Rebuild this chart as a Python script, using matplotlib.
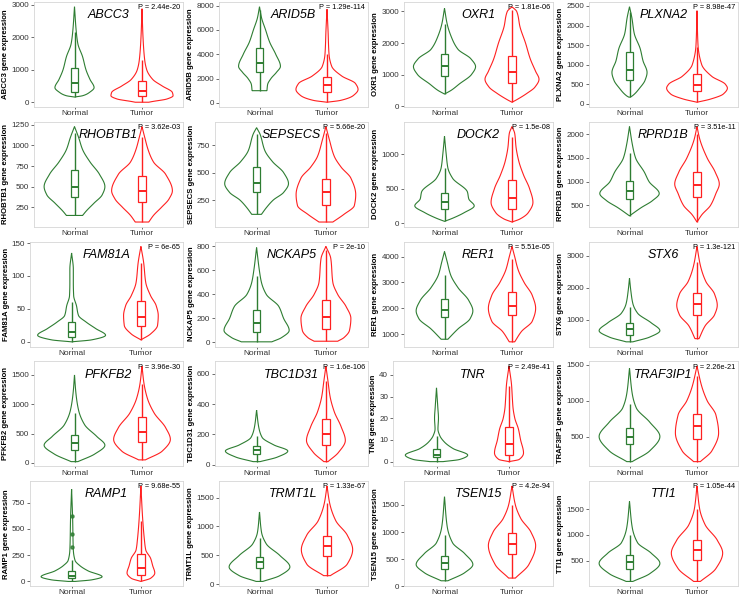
import numpy as np
import matplotlib
matplotlib.use("Agg")
import matplotlib.pyplot as plt
from matplotlib.patches import Rectangle

plt.rcParams['font.family'] = ['Liberation Sans', 'DejaVu Sans']

genes = ["ABCC3", "ARID5B", "OXR1", "PLXNA2",
         "RHOBTB1", "SEPSECS", "DOCK2", "RPRD1B",
         "FAM81A", "NCKAP5", "RER1", "STX6",
         "PFKFB2", "TBC1D31", "TNR", "TRAF3IP1",
         "RAMP1", "TRMT1L", "TSEN15", "TTI1"]

pvals = ["P = 2.44e-20", "P = 1.29e-114", "P = 1.81e-06", "P = 8.98e-47",
         "P = 3.62e-03", "P = 5.66e-20", "P = 1.5e-08", "P = 3.51e-11",
         "P = 6e-65", "P = 2e-10", "P = 5.51e-05", "P = 1.3e-121",
         "P = 3.96e-30", "P = 1.6e-106", "P = 2.49e-41", "P = 2.26e-21",
         "P = 9.68e-55", "P = 1.33e-67", "P = 4.2e-94", "P = 1.05e-44"]

yticks = [[0, 1000, 2000, 3000], [0, 2000, 4000, 6000, 8000], [0, 1000, 2000, 3000], [0, 500, 1000, 1500, 2000, 2500],
          [250, 500, 750, 1000, 1250], [250, 500, 750], [0, 500, 1000], [500, 1000, 1500, 2000],
          [0, 50, 100, 150], [0, 200, 400, 600, 800], [1000, 2000, 3000, 4000], [1000, 2000, 3000],
          [0, 500, 1000, 1500], [0, 200, 400, 600], [0, 10, 20, 30, 40], [500, 1000, 1500],
          [0, 250, 500, 750], [0, 500, 1000, 1500], [0, 500, 1000, 1500], [500, 1000, 1500]]

# box stats: [lower whisker, q1, median, q3, upper whisker]
normal_box = [[160, 300, 600, 1050, 2170], [1000, 2500, 3300, 4550, 7600], [380, 950, 1280, 1650, 2600], [170, 620, 870, 1330, 2350],
              [150, 370, 500, 700, 1150], [120, 320, 410, 550, 850], [25, 200, 310, 440, 800], [280, 630, 800, 1010, 1600],
              [0, 8, 15, 30, 60], [5, 90, 165, 270, 550], [800, 1650, 1950, 2350, 3300], [300, 520, 700, 900, 1400],
              [20, 220, 330, 480, 850], [20, 70, 95, 120, 190], [0, 2, 3, 6, 12], [150, 400, 500, 620, 950],
              [0, 30, 55, 100, 200], [50, 280, 380, 480, 800], [100, 320, 430, 560, 950], [100, 350, 480, 620, 1000]]
tumor_box = [[0, 200, 360, 650, 1300], [50, 900, 1450, 2150, 4000], [120, 720, 1080, 1600, 3050], [40, 320, 480, 760, 1450],
             [70, 310, 450, 630, 1100], [50, 205, 320, 440, 860], [15, 200, 370, 620, 1250], [150, 680, 930, 1200, 2000],
             [3, 24, 38, 62, 120], [10, 110, 215, 355, 770], [700, 1750, 2100, 2650, 3900], [400, 1150, 1500, 1850, 2800],
             [50, 350, 520, 780, 1350], [20, 130, 200, 300, 550], [0, 3, 8, 16, 35], [150, 470, 650, 820, 1350],
             [0, 60, 125, 265, 580], [150, 490, 660, 840, 1400], [150, 600, 780, 980, 1500], [100, 520, 700, 900, 1500]]

# outlying points visible on the thin violin tails
normal_out = [[], [], [], [], [], [], [], [], [], [], [], [], [], [], [], [],
              [330, 455, 620], [], [], []]
tumor_out = [[], [], [], [], [], [], [], [], [], [], [], [], [], [], [], [],
             [], [], [], []]

# violin outlines: expression levels (ascending) and half-widths
normal_vy = [[160, 200, 300, 450, 700, 1000, 1400, 1800, 2200, 2940],
             [1000, 1500, 2000, 2500, 3000, 4000, 5000, 6000, 7000, 7900],
             [380, 500, 700, 1000, 1250, 1500, 1800, 2200, 2600, 3100],
             [170, 200, 400, 600, 800, 1100, 1400, 1800, 2200, 2480],
             [150, 200, 300, 400, 500, 650, 800, 950, 1100, 1230],
             [120, 180, 250, 320, 400, 500, 600, 700, 850, 910],
             [25, 70, 150, 250, 350, 450, 650, 800, 1000, 1260],
             [280, 450, 600, 750, 1000, 1200, 1500, 1800, 2160],
             [0, 3, 10, 20, 30, 40, 55, 70, 90, 110, 135],
             [5, 40, 100, 200, 300, 400, 500, 600, 790],
             [800, 1200, 1600, 1900, 2300, 2800, 3300, 3800, 4200],
             [300, 450, 650, 900, 1200, 1500, 1900, 2300],
             [20, 150, 300, 450, 650, 900, 1200, 1500],
             [20, 50, 90, 130, 180, 250, 360],
             [0, 1, 3, 6, 9, 12, 15, 20, 25, 34],
             [150, 300, 500, 700, 900, 1100, 1450],
             [0, 15, 45, 100, 150, 200, 300, 600, 880],
             [50, 150, 300, 500, 700, 900, 1250],
             [100, 250, 400, 600, 800, 1100, 1650],
             [100, 250, 450, 650, 850, 1150, 1650]]
normal_vw = [[0.0, 0.12, 0.22, 0.29, 0.23, 0.17, 0.12, 0.05, 0.025, 0.0],
             [0.11, 0.12, 0.17, 0.25, 0.31, 0.24, 0.15, 0.09, 0.03, 0.0],
             [0.0, 0.1, 0.22, 0.4, 0.46, 0.39, 0.2, 0.1, 0.04, 0.0],
             [0.01, 0.04, 0.15, 0.23, 0.26, 0.2, 0.16, 0.07, 0.035, 0.0],
             [0.12, 0.17, 0.29, 0.41, 0.45, 0.37, 0.23, 0.12, 0.06, 0.0],
             [0.07, 0.14, 0.24, 0.39, 0.46, 0.39, 0.23, 0.12, 0.05, 0.0],
             [0.0, 0.12, 0.29, 0.44, 0.36, 0.34, 0.12, 0.05, 0.025, 0.0],
             [0.0, 0.17, 0.34, 0.44, 0.29, 0.22, 0.09, 0.04, 0.0],
             [0.0, 0.29, 0.49, 0.35, 0.21, 0.1, 0.07, 0.03, 0.025, 0.025, 0.0],
             [0.22, 0.36, 0.47, 0.39, 0.32, 0.14, 0.07, 0.04, 0.0],
             [0.05, 0.2, 0.38, 0.42, 0.36, 0.2, 0.09, 0.04, 0.0],
             [0.05, 0.3, 0.45, 0.32, 0.12, 0.05, 0.02, 0.0],
             [0.05, 0.3, 0.45, 0.33, 0.15, 0.06, 0.02, 0.0],
             [0.05, 0.3, 0.45, 0.25, 0.08, 0.03, 0.0],
             [0.09, 0.32, 0.43, 0.23, 0.11, 0.045, 0.02, 0.027, 0.018, 0.0],
             [0.04, 0.3, 0.45, 0.3, 0.1, 0.04, 0.0],
             [0.05, 0.29, 0.44, 0.24, 0.12, 0.05, 0.025, 0.015, 0.0],
             [0.05, 0.3, 0.45, 0.3, 0.1, 0.03, 0.0],
             [0.05, 0.3, 0.42, 0.3, 0.12, 0.04, 0.0],
             [0.05, 0.3, 0.45, 0.32, 0.12, 0.04, 0.0]]
tumor_vy = [[0, 20, 100, 200, 300, 500, 700, 1000, 1300, 2000, 2880],
            [50, 200, 600, 1100, 1600, 2200, 3000, 4000, 6000, 7700],
            [120, 200, 400, 600, 850, 1100, 1500, 2000, 2500, 3000, 3150],
            [40, 120, 250, 400, 500, 700, 1000, 1500, 2380],
            [70, 150, 250, 350, 450, 650, 800, 950, 1100, 1230],
            [50, 120, 200, 300, 450, 550, 650, 800, 920],
            [15, 60, 150, 300, 500, 700, 900, 1100, 1300, 1400],
            [150, 300, 500, 750, 950, 1200, 1500, 1900, 2160],
            [3, 12, 25, 40, 55, 70, 90, 120, 145],
            [10, 40, 100, 200, 300, 400, 500, 700, 800],
            [700, 1100, 1500, 2000, 2500, 3000, 3500, 4000, 4400],
            [400, 800, 1150, 1450, 1800, 2200, 2700, 3300],
            [50, 200, 400, 600, 850, 1100, 1350, 1650],
            [20, 80, 160, 250, 350, 450, 550, 650],
            [0, 1, 4, 10, 15, 20, 25, 30, 35, 44],
            [150, 300, 550, 800, 1000, 1200, 1480],
            [0, 30, 80, 150, 220, 300, 400, 600, 910],
            [150, 350, 600, 850, 1100, 1400, 1700],
            [150, 400, 750, 1000, 1250, 1500, 1850],
            [100, 350, 650, 900, 1200, 1500, 1950]]
tumor_vw = [[0.1, 0.15, 0.37, 0.46, 0.45, 0.3, 0.16, 0.07, 0.04, 0.015, 0.0],
            [0.0, 0.2, 0.39, 0.46, 0.42, 0.22, 0.07, 0.03, 0.015, 0.0],
            [0.0, 0.07, 0.22, 0.34, 0.4, 0.35, 0.27, 0.2, 0.12, 0.07, 0.0],
            [0.0, 0.2, 0.39, 0.45, 0.42, 0.22, 0.07, 0.015, 0.0],
            [0.1, 0.17, 0.29, 0.4, 0.45, 0.35, 0.17, 0.09, 0.04, 0.0],
            [0.1, 0.26, 0.41, 0.43, 0.36, 0.22, 0.12, 0.05, 0.0],
            [0.0, 0.12, 0.24, 0.31, 0.26, 0.17, 0.1, 0.06, 0.04, 0.0],
            [0.0, 0.07, 0.2, 0.28, 0.33, 0.27, 0.15, 0.04, 0.0],
            [0.0, 0.14, 0.24, 0.25, 0.22, 0.14, 0.07, 0.04, 0.0],
            [0.17, 0.26, 0.34, 0.36, 0.29, 0.17, 0.1, 0.07, 0.0],
            [0.04, 0.14, 0.3, 0.35, 0.3, 0.18, 0.09, 0.04, 0.0],
            [0.03, 0.12, 0.26, 0.3, 0.26, 0.13, 0.05, 0.0],
            [0.05, 0.3, 0.42, 0.35, 0.18, 0.08, 0.03, 0.0],
            [0.03, 0.18, 0.28, 0.22, 0.12, 0.06, 0.03, 0.0],
            [0.0, 0.14, 0.2, 0.16, 0.13, 0.08, 0.055, 0.045, 0.036, 0.0],
            [0.05, 0.22, 0.32, 0.28, 0.15, 0.07, 0.0],
            [0.0, 0.14, 0.2, 0.17, 0.14, 0.07, 0.05, 0.025, 0.0],
            [0.05, 0.3, 0.38, 0.3, 0.13, 0.04, 0.0],
            [0.05, 0.25, 0.35, 0.28, 0.13, 0.05, 0.0],
            [0.05, 0.28, 0.38, 0.3, 0.12, 0.04, 0.0]]

groups = ["Normal", "Tumor"]
NORMAL_COL = "#2E7D32"
TUMOR_COL = "#FF2020"


def pchip(x, y, xs):
    x = np.asarray(x, float)
    y = np.asarray(y, float)
    h = np.diff(x)
    d = np.diff(y) / h
    n = len(x)
    m = np.zeros(n)
    for k in range(1, n - 1):
        if d[k - 1] * d[k] > 0:
            w1 = 2 * h[k] + h[k - 1]
            w2 = h[k] + 2 * h[k - 1]
            m[k] = (w1 + w2) / (w1 / d[k - 1] + w2 / d[k])
    m[0] = d[0]
    m[-1] = d[-1]
    idx = np.clip(np.searchsorted(x, xs) - 1, 0, n - 2)
    t = (xs - x[idx]) / h[idx]
    h00 = 2 * t**3 - 3 * t**2 + 1
    h10 = t**3 - 2 * t**2 + t
    h01 = -2 * t**3 + 3 * t**2
    h11 = t**3 - t**2
    return h00 * y[idx] + h10 * h[idx] * m[idx] + h01 * y[idx + 1] + h11 * h[idx] * m[idx + 1]


def draw_violin(ax, pos, ys, ws, color):
    yy = np.linspace(ys[0], ys[-1], 300)
    ww = np.clip(pchip(ys, ws, yy), 0, None)
    x = np.concatenate([pos - ww, (pos + ww)[::-1]])
    y = np.concatenate([yy, yy[::-1]])
    ax.fill(x, y, facecolor="white", edgecolor=color, lw=0.8, zorder=2)


def draw_box(ax, pos, stats, outs, color):
    lo, q1, med, q3, hi = stats
    bw = 0.055
    ax.plot([pos, pos], [lo, hi], color=color, lw=1.0, zorder=3, solid_capstyle="butt")
    ax.add_patch(Rectangle((pos - bw, q1), 2 * bw, q3 - q1, facecolor="white",
                           edgecolor=color, lw=0.9, zorder=4))
    ax.plot([pos - bw, pos + bw], [med, med], color=color, lw=1.4, zorder=5, solid_capstyle="butt")
    if outs:
        ax.plot([pos] * len(outs), outs, "o", ms=2.2, color=color, zorder=5, alpha=0.8)


fig = plt.figure(figsize=(7.4, 5.97), dpi=100)
W, H = 740.0, 597.0
left_off = {1: 21, 2: 23, 3: 30, 4: 34}

for i, g in enumerate(genes):
    r, c = divmod(i, 4)
    nd = max(len(str(t)) for t in yticks[i])
    lpx = c * 185 + left_off[nd]
    rpx = c * 185 + 182.5
    tpx = 2.0 + 119.8 * r
    hpx = 105
    ax = fig.add_axes([lpx / W, 1 - (tpx + hpx) / H, (rpx - lpx) / W, hpx / H])

    draw_violin(ax, 1, normal_vy[i], normal_vw[i], NORMAL_COL)
    draw_violin(ax, 2, tumor_vy[i], tumor_vw[i], TUMOR_COL)
    draw_box(ax, 1, normal_box[i], normal_out[i], NORMAL_COL)
    draw_box(ax, 2, tumor_box[i], tumor_out[i], TUMOR_COL)

    lo = min(normal_vy[i][0], tumor_vy[i][0])
    hi = max(normal_vy[i][-1], tumor_vy[i][-1])
    pad = 0.05 * (hi - lo)
    ax.set_ylim(lo - pad, hi + pad)
    ax.set_xlim(0.4, 2.6)
    ax.set_xticks([1, 2])
    ax.set_xticklabels(groups)
    ax.set_yticks(yticks[i])
    ax.set_yticklabels([str(t) for t in yticks[i]])
    ax.tick_params(axis="y", labelsize=5.8, length=2, width=0.5, color="#333333",
                   labelcolor="#333333", pad=1.5)
    ax.tick_params(axis="x", labelsize=6.0, length=1.5, width=0.5, color="#333333",
                   labelcolor="#333333", pad=0.8)
    for s in ax.spines.values():
        s.set_color("#D6D6D6")
        s.set_linewidth(0.6)
    ax.set_ylabel(f"{g} gene expression", fontsize=5.6, fontweight="bold", labelpad=1.5)
    ax.text(1.5, 0.875, g, transform=ax.get_xaxis_transform(), ha="center", va="center",
            fontsize=9, style="italic")
    ax.text(0.985, 0.945, pvals[i], transform=ax.transAxes, ha="right", va="center",
            fontsize=5.3)

fig.savefig("out.png", dpi=100)
